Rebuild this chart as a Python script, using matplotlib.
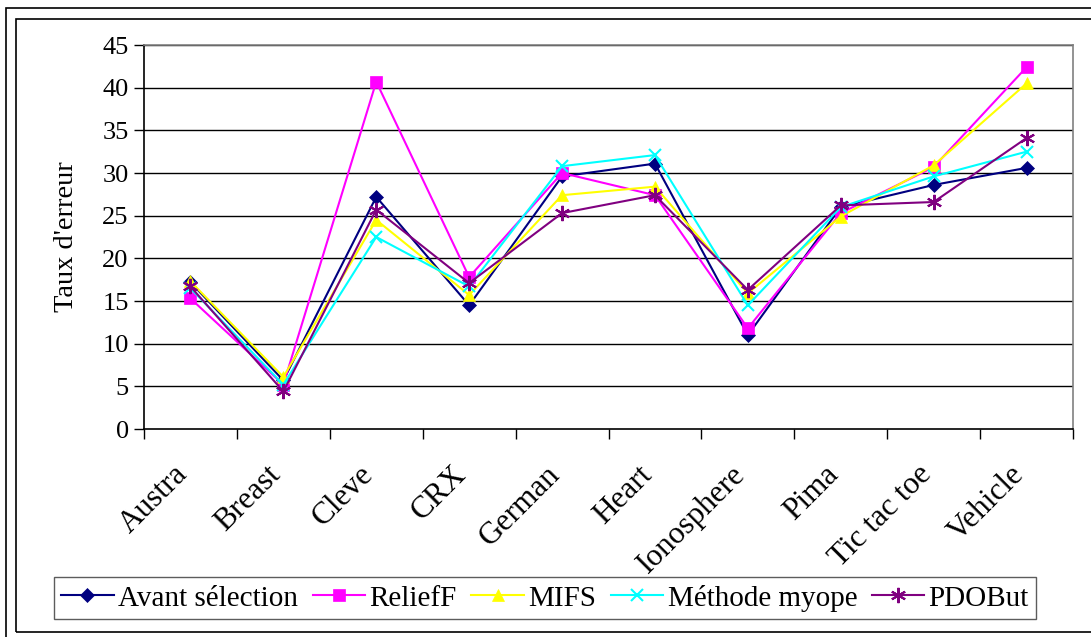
import numpy as np
from matplotlib import pyplot as plt
from matplotlib.patches import Rectangle
from matplotlib.transforms import offset_copy

# data
datasets = ['Austra', 'Breast', 'Cleve', 'CRX', 'German', 'Heart',
            'Ionosphere', 'Pima', 'Tic tac toe', 'Vehicle']
avant = [17.2, 5.7, 27.2, 14.5, 29.6, 31.1, 11.0, 26.0, 28.6, 30.6]
relieff = [15.3, 5.2, 40.7, 17.8, 30.0, 27.4, 11.8, 25.3, 30.7, 42.4]
mifs = [17.3, 6.1, 24.5, 15.7, 27.4, 28.4, 15.9, 24.9, 30.9, 40.5]
myope = [16.5, 5.2, 22.5, 16.7, 30.8, 32.1, 14.5, 26.0, 29.6, 32.5]
pdobut = [16.7, 4.4, 25.7, 17.1, 25.3, 27.4, 16.3, 26.2, 26.6, 34.1]
yticks = list(range(0, 50, 5))

plt.rcParams['font.family'] = ['Liberation Serif', 'DejaVu Serif']

fig = plt.figure()
fig.set_size_inches(10.91, 6.37)
fig.set_dpi(100)

W, H = 1091.0, 637.0
# outer borders (cut off on the right / bottom like the reference)
fig.patches.append(Rectangle((6/W, 1-700/H), 1200/W, 692/H, transform=fig.transFigure,
                             fill=False, edgecolor='black', lw=1.2))
fig.patches.append(Rectangle((16/W, 1-632/H), 1200/W, 613/H, transform=fig.transFigure,
                             fill=False, edgecolor='black', lw=1.2))

ax = fig.add_axes([144/W, 1-429/H, (1073-144)/W, (429-45)/H])
x = np.arange(len(datasets))

series = [
    ('Avant sélection', avant, '#000080', 'D', 7),
    ('ReliefF', relieff, '#FF00FF', 's', 8),
    ('MIFS', mifs, '#FFFF00', '^', 9),
    ('Méthode myope', myope, '#00FFFF', 'x', 9),
    ('PDOBut', pdobut, '#800080', (6, 2, 0), 11),
]
for name, vals, col, mk, ms in series:
    ax.plot(x, vals, color=col, marker=mk, markersize=ms, lw=1.5,
            markeredgewidth=1.5 if mk in ('x', (6, 2, 0)) else 0.5,
            markeredgecolor=col, label=name, clip_on=False, zorder=3)

ax.set_xlim(-0.5, len(datasets) - 0.5)
ax.set_ylim(0, 45)
ax.set_yticks(yticks)
ax.set_yticklabels([str(v) for v in yticks], fontsize=19)
for v in yticks[1:]:
    ax.axhline(v, color='black', lw=1.0, zorder=1)

# category boundaries as ticks, names as rotated texts
ax.set_xticks(np.arange(-0.5, len(datasets), 1.0))
ax.set_xticklabels([])
ax.tick_params(axis='x', length=7, direction='out', width=1)
ax.tick_params(axis='y', length=7, direction='out', width=1, pad=4)
base = ax.get_xaxis_transform()
lab_tr = offset_copy(base, fig=fig, x=-17, y=-31, units='dots')
for i, name in enumerate(datasets):
    ax.text(i, 0, name, transform=lab_tr, rotation=45, ha='right', va='top',
            rotation_mode='anchor', fontsize=22.5)

ax.spines['top'].set_color('gray')
ax.spines['right'].set_color('gray')
for s in ax.spines.values():
    s.set_linewidth(1.2)

ax.set_ylabel("Taux d'erreur", fontsize=20.5, labelpad=17)

leg = fig.legend(loc='center', bbox_to_anchor=(545/W, 1-598/H), ncol=5,
                 fontsize=21, frameon=True, fancybox=False, handlelength=1.8,
                 handletextpad=0.15, columnspacing=0.5, borderpad=0.25,
                 borderaxespad=0)
leg.get_frame().set_edgecolor('#333333')
leg.get_frame().set_linewidth(1.0)

fig.savefig('out.png', dpi=100)
